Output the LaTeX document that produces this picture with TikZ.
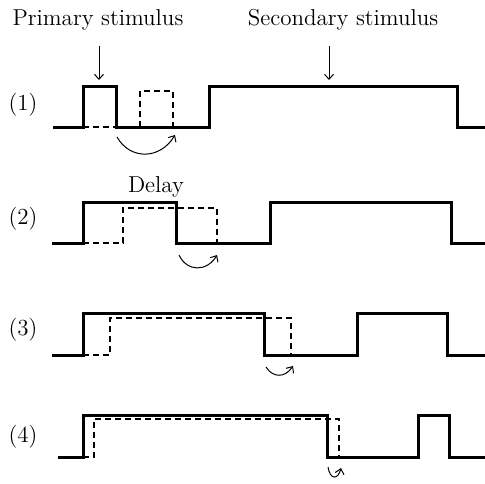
\documentclass[tikz,border=0pt]{standalone}
\usepackage{amsmath}
\usepackage{tikz}
\usetikzlibrary{arrows.meta}

\begin{document}
\begin{tikzpicture}[x=0.5pt,y=-0.5pt,>={Straight Barb[length=2.5pt,width=4.5pt]},
                    font=\fontsize{11.5pt}{14pt}\selectfont]
  \tikzstyle{wave}=[line width=1.5pt,line join=miter]
  \tikzstyle{echo}=[line width=0.9pt,dash pattern=on 3pt off 2pt]
  \tikzstyle{arr}=[->,line width=0.5pt]
  \tikzstyle{lbl}=[anchor=base,inner sep=0pt]

  \useasboundingbox (0,0) rectangle (485,483);

  % labels
  \node[lbl] (prim)  at (98,25)  {Primary stimulus};
  \node[lbl] (sec)   at (343,25) {Secondary stimulus};
  \node[lbl] (delay) at (156,192) {Delay};
  \node (n1) at (23,105) {(1)};
  \node (n2) at (23,219) {(2)};
  \node (n3) at (23,330) {(3)};
  \node (n4) at (23,437) {(4)};

  \coordinate (primtip) at (99,80);
  \coordinate (sectip)  at (329,80);
  \draw[arr,shorten <=8pt] (prim.south -| primtip) -- (primtip);
  \draw[arr,shorten <=8pt] (sec.south -| sectip) -- (sectip);

  % (1)
  \draw[wave] (53,127) -| (83,86) -| (116,127) -| (209,86) -| (457,127) -- (485,127);
  \draw[echo] (83,127) -- (116,127);
  \draw[echo] (140,127) |- (173,91) -- (173,127);
  \draw[arr] (117,137) .. controls (130,160) and (160,160) .. (175,135);

  % (2)
  \draw[wave] (52,243) -| (83,202) -| (176,243) -| (270,202) -| (451,243) -- (485,243);
  \draw[echo] (83,243) -| (123,208) -| (217,243);
  \draw[arr] (179,255) .. controls (187,272) and (207,272) .. (217,255);

  % (3)
  \draw[wave] (52,355) -| (83,313) -| (264,355) -| (357,313) -| (447,355) -- (485,355);
  \draw[echo] (83,355) -| (110,318) -| (291,355);
  \draw[arr] (266,367) .. controls (273,378) and (285,378) .. (293,366);

  % (4)
  \draw[wave] (58,457) -| (83,415) -| (327,457) -| (418,415) -| (449,457) -- (485,457);
  \draw[echo] (83,457) -| (94,419) -| (339,457);
  \draw[arr] (328,467) .. controls (330,480) and (338,480) .. (341,468);

\end{tikzpicture}
\end{document}
